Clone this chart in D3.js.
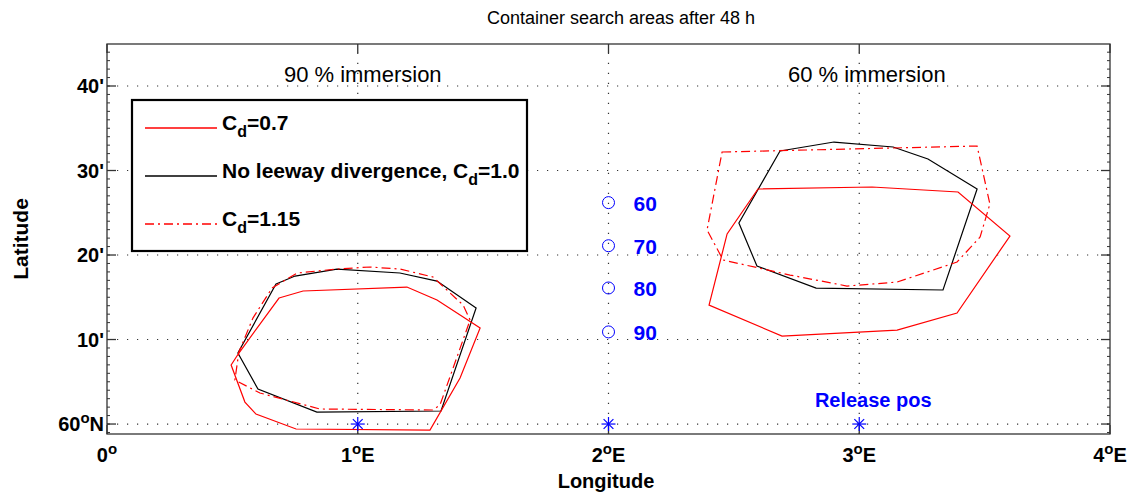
<!DOCTYPE html>
<html>
<head>
<meta charset="utf-8">
<script src="https://cdn.jsdelivr.net/npm/d3@7"></script>
<style>
  body { margin: 0; background: #fff; }
  svg { display: block; font-family: "Liberation Sans", Arial, sans-serif; }
</style>
</head>
<body>
<div id="chart"></div>
<script>
// longitude in degrees E, latitude in minutes north of 60N
const lonTicks = [0, 1, 2, 3, 4];
const lonTickLabels = ['0', '1', '2', '3', '4'];
const lonTickSuffix = ['', 'E', 'E', 'E', 'E'];
const latTicks = [0, 10, 20, 30, 40];
const latTickLabels = ['60', "10'", "20'", "30'", "40'"];

const areaLabels = [
  { text: '90 % immersion', lon: 1.02, lat: 40.5 },
  { text: '60 % immersion', lon: 3.03, lat: 40.5 }
];

// Cd = 0.7 (red solid)
const cd07Left = [[0.686, 14.91], [0.782, 15.74], [1.196, 16.21], [1.316, 14.67], [1.488, 11.36], [1.408, 5.44],
  [1.288, -0.71], [0.754, -0.59], [0.594, 1.18], [0.550, 2.60], [0.495, 6.98], [0.526, 8.40]];
const cd07Right = [[2.596, 27.81], [3.051, 28.05], [3.394, 27.46], [3.601, 22.25], [3.390, 13.14], [3.151, 11.12],
  [2.692, 10.41], [2.401, 14.08], [2.473, 22.49]];

// no leeway divergence, Cd = 1.0 (black)
const cd10Left = [[0.674, 16.57], [0.750, 17.51], [0.917, 18.34], [1.168, 17.87], [1.316, 16.92], [1.472, 13.73],
  [1.332, 1.54], [0.837, 1.42], [0.602, 4.14], [0.522, 8.40]];
const cd10Right = [[2.684, 32.31], [2.899, 33.37], [3.135, 32.78], [3.274, 31.36], [3.470, 27.81], [3.334, 15.86],
  [2.828, 16.09], [2.592, 18.70], [2.520, 23.79]];

// Cd = 1.15 (red dash-dot)
const cd115Left = [[0.658, 16.09], [0.758, 17.87], [0.917, 18.34], [1.049, 18.58], [1.168, 18.34], [1.300, 17.40],
  [1.420, 14.08], [1.448, 12.31], [1.328, 2.25], [1.300, 1.66], [0.849, 1.78], [0.610, 3.67], [0.510, 5.21],
  [0.526, 8.52], [0.582, 12.54]];
const cd115Right = [[2.453, 32.19], [3.470, 32.90], [3.521, 26.04], [3.482, 22.13], [3.390, 19.17], [3.151, 16.80],
  [2.951, 16.33], [2.724, 17.63], [2.457, 19.41], [2.393, 22.96]];

const immersionLon = 2;
const immersionLat = [26.2, 21.1, 16.1, 10.9];
const immersionLabels = ['60', '70', '80', '90'];

const releaseLon = [1, 2, 3];
const releaseLat = [0, 0, 0];

const W = 1143, H = 495;
const margin = { top: 44, right: 33, bottom: 61, left: 107 };
const width = W - margin.left - margin.right;
const height = H - margin.top - margin.bottom;

const svg = d3.select('#chart').append('svg')
  .attr('width', W)
  .attr('height', H);

const x = d3.scaleLinear().domain([0, 4]).range([margin.left, margin.left + width]);
const y = d3.scaleLinear().domain([-1.18, 44.97]).range([margin.top + height, margin.top]);

// title
svg.append('text')
  .attr('x', 621).attr('y', 24)
  .attr('text-anchor', 'middle')
  .attr('font-size', 18)
  .text('Container search areas after 48 h');

// dotted grid
const grid = svg.append('g').attr('stroke', '#333').attr('stroke-width', 1.2).attr('stroke-dasharray', '1.2,8.8');
grid.selectAll('.gx').data(lonTicks.slice(1, -1)).enter().append('line')
  .attr('x1', d => x(d)).attr('x2', d => x(d))
  .attr('y1', y.range()[0]).attr('y2', y.range()[1]);
grid.selectAll('.gy').data(latTicks).enter().append('line')
  .attr('y1', d => y(d)).attr('y2', d => y(d))
  .attr('x1', x.range()[0]).attr('x2', x.range()[1]);

// frame + inward ticks
const frame = svg.append('g').attr('stroke', '#333').attr('fill', 'none');
frame.append('rect')
  .attr('x', x.range()[0]).attr('y', y.range()[1])
  .attr('width', width).attr('height', height)
  .attr('stroke-width', 1.3);

const minor = d3.range(-1, 45, 1);
[x.range()[0], x.range()[1]].forEach((xx, i) => {
  const dir = i === 0 ? 1 : -1;
  frame.selectAll(null).data(minor).enter().append('line')
    .attr('x1', xx).attr('x2', xx + dir * 3)
    .attr('y1', d => y(d)).attr('y2', d => y(d)).attr('stroke-width', 1);
  frame.selectAll(null).data(latTicks).enter().append('line')
    .attr('x1', xx).attr('x2', xx + dir * 9)
    .attr('y1', d => y(d)).attr('y2', d => y(d)).attr('stroke-width', 1.3);
});
[y.range()[0], y.range()[1]].forEach((yy, i) => {
  const dir = i === 0 ? -1 : 1;
  frame.selectAll(null).data(lonTicks).enter().append('line')
    .attr('y1', yy).attr('y2', yy + dir * 9)
    .attr('x1', d => x(d)).attr('x2', d => x(d)).attr('stroke-width', 1.3);
});

// tick labels
const xl = svg.append('g').attr('font-size', 20).attr('font-weight', 'bold').attr('text-anchor', 'middle');
lonTicks.forEach((d, i) => {
  const t = xl.append('text').attr('x', x(d)).attr('y', 462);
  t.append('tspan').text(lonTickLabels[i]);
  t.append('tspan').attr('font-size', 15).attr('dy', -8).text('o');
  if (lonTickSuffix[i]) t.append('tspan').attr('dy', 8).text(lonTickSuffix[i]);
});

const yl = svg.append('g').attr('font-size', 20).attr('font-weight', 'bold').attr('text-anchor', 'end');
latTicks.forEach((d, i) => {
  const t = yl.append('text').attr('x', x.range()[0] - 3).attr('y', y(d) + 7);
  if (d === 0) {
    t.append('tspan').text('60');
    t.append('tspan').attr('font-size', 15).attr('dy', -8).text('o');
    t.append('tspan').attr('dy', 8).text('N');
  } else {
    t.text(latTickLabels[i]);
  }
});

// axis titles
svg.append('text')
  .attr('x', 606).attr('y', 488)
  .attr('text-anchor', 'middle').attr('font-size', 20).attr('font-weight', 'bold')
  .text('Longitude');
svg.append('text')
  .attr('transform', `translate(28,${(y.range()[0] + y.range()[1]) / 2}) rotate(-90)`)
  .attr('text-anchor', 'middle').attr('font-size', 21).attr('font-weight', 'bold')
  .text('Latitude');

// polygons
const line = d3.line().x(d => x(d[0])).y(d => y(d[1])).curve(d3.curveLinearClosed);
const areas = [
  { data: cd10Left, color: '#000', dash: null },
  { data: cd10Right, color: '#000', dash: null },
  { data: cd07Left, color: '#ff0000', dash: null },
  { data: cd07Right, color: '#ff0000', dash: null },
  { data: cd115Left, color: '#ff0000', dash: '9,4,2,4' },
  { data: cd115Right, color: '#ff0000', dash: '9,4,2,4' }
];
svg.append('g').selectAll('path').data(areas).enter().append('path')
  .attr('d', d => line(d.data))
  .attr('fill', 'none')
  .attr('stroke', d => d.color)
  .attr('stroke-width', 1.2)
  .attr('stroke-dasharray', d => d.dash);

// area labels
svg.append('g').selectAll('text').data(areaLabels).enter().append('text')
  .attr('x', d => x(d.lon)).attr('y', d => y(d.lat))
  .attr('text-anchor', 'middle').attr('font-size', 22)
  .text(d => d.text);

// immersion markers
const blue = '#0000ff';
const imm = svg.append('g');
imm.selectAll('circle').data(immersionLat).enter().append('circle')
  .attr('cx', x(immersionLon)).attr('cy', d => y(d)).attr('r', 6)
  .attr('fill', 'none').attr('stroke', blue).attr('stroke-width', 1);
imm.selectAll('text').data(immersionLat).enter().append('text')
  .attr('x', x(immersionLon) + 25).attr('y', d => y(d) + 8)
  .attr('fill', blue).attr('font-size', 21).attr('font-weight', 'bold')
  .text((d, i) => immersionLabels[i]);

// release positions (asterisks)
const star = svg.append('g').attr('stroke', blue).attr('stroke-width', 1.2);
releaseLon.forEach((lon, i) => {
  const cx = x(lon), cy = y(releaseLat[i]), r = 7;
  star.append('line').attr('x1', cx).attr('x2', cx).attr('y1', cy - r).attr('y2', cy + r);
  star.append('line').attr('x1', cx - r).attr('x2', cx + r).attr('y1', cy).attr('y2', cy);
  star.append('line').attr('x1', cx - r * 0.7).attr('x2', cx + r * 0.7).attr('y1', cy - r * 0.7).attr('y2', cy + r * 0.7);
  star.append('line').attr('x1', cx - r * 0.7).attr('x2', cx + r * 0.7).attr('y1', cy + r * 0.7).attr('y2', cy - r * 0.7);
});
svg.append('text')
  .attr('x', x(3) + 14).attr('y', 407)
  .attr('text-anchor', 'middle').attr('fill', blue).attr('font-size', 20).attr('font-weight', 'bold')
  .text('Release pos');

// legend
const legendItems = [
  { label: '=0.7', pre: 'C', color: '#ff0000', dash: null },
  { label: '=1.0', pre: 'No leeway divergence, C', color: '#000', dash: null },
  { label: '=1.15', pre: 'C', color: '#ff0000', dash: '9,4,2,4' }
];
const lg = svg.append('g');
lg.append('rect')
  .attr('x', 132).attr('y', 100).attr('width', 395).attr('height', 151)
  .attr('fill', '#fff').attr('stroke', '#000').attr('stroke-width', 2.2);
legendItems.forEach((d, i) => {
  const ly = 128 + i * 48;
  lg.append('line').attr('x1', 145).attr('x2', 217).attr('y1', ly).attr('y2', ly)
    .attr('stroke', d.color).attr('stroke-width', 1.3).attr('stroke-dasharray', d.dash);
  const t = lg.append('text').attr('x', 222).attr('y', ly + 2)
    .attr('font-size', 21).attr('font-weight', 'bold');
  t.append('tspan').text(d.pre);
  t.append('tspan').attr('font-size', 16).attr('dy', 7).text('d');
  t.append('tspan').attr('dy', -7).text(d.label);
});
</script>
</body>
</html>
